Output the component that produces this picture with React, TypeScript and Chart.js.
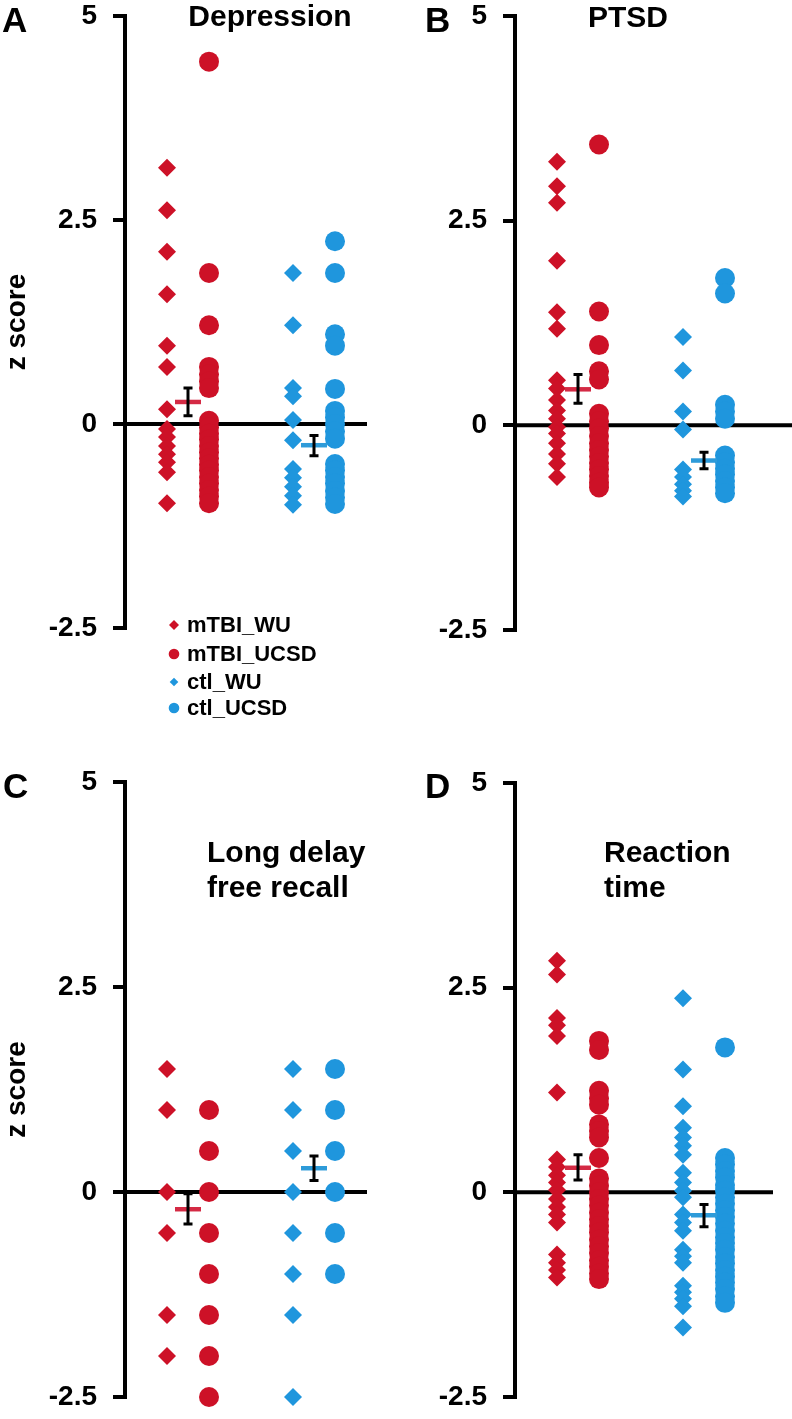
import React, { useEffect, useRef } from 'react';
import { Chart, registerables } from 'chart.js';

Chart.register(...registerables);

const FONT = '"Liberation Sans", Arial, Helvetica, sans-serif';

// ---- categories / ticks ----
const SERIES_LABELS = ['mTBI_WU', 'mTBI_UCSD', 'ctl_WU', 'ctl_UCSD'];
const SERIES_X = [1, 2, 4, 5];
const GROUP_X = [1.5, 4.5];
const Y_TICKS = [-2.5, 0, 2.5, 5];
const Y_TICK_LABELS = ['-2.5', '0', '2.5', '5'];

// ---- Panel A: Depression ----
const depMtbiWu = [3.14, 2.62, 2.11, 1.59, 0.96, 0.7, 0.18, -0.06, -0.16, -0.27, -0.37, -0.47, -0.59, -0.97];
const depMtbiUcsd = [4.44, 1.85, 1.21, 0.7, 0.61, 0.52, 0.44, 0.04, -0.04, -0.12, -0.19, -0.27, -0.35, -0.42, -0.5, -0.57, -0.65, -0.73, -0.81, -0.89, -0.97];
const depCtlWu = [1.85, 1.21, 0.44, 0.34, 0.05, -0.2, -0.55, -0.66, -0.77, -0.88, -0.99];
const depCtlUcsd = [2.24, 1.85, 1.1, 0.96, 0.43, 0.16, 0.08, 0.0, -0.09, -0.18, -0.49, -0.57, -0.65, -0.73, -0.82, -0.9, -0.98];
const depMean = [0.27, -0.26];
const depSemLow = [0.1, -0.39];
const depSemHigh = [0.44, -0.14];

// ---- Panel B: PTSD ----
const ptsdMtbiWu = [3.22, 2.92, 2.72, 2.01, 1.38, 1.18, 0.55, 0.45, 0.31, 0.18, 0.08, -0.02, -0.1, -0.22, -0.35, -0.47, -0.63];
const ptsdMtbiUcsd = [3.43, 1.39, 0.98, 0.66, 0.56, 0.14, 0.05, -0.04, -0.13, -0.22, -0.3, -0.38, -0.46, -0.54, -0.62, -0.7, -0.76];
const ptsdCtlWu = [1.08, 0.67, 0.17, -0.05, -0.54, -0.63, -0.72, -0.8, -0.87];
const ptsdCtlUcsd = [1.8, 1.61, 0.25, 0.17, 0.08, -0.37, -0.45, -0.53, -0.6, -0.68, -0.76, -0.83];
const ptsdMean = [0.44, -0.43];
const ptsdSemLow = [0.27, -0.53];
const ptsdSemHigh = [0.62, -0.33];

// ---- Panel C: Long delay free recall ----
const recMtbiWu = [1.5, 1.0, 0, -0.5, -1.5, -2.0];
const recMtbiUcsd = [1.0, 0.5, 0, -0.5, -1.0, -1.5, -2.0, -2.5];
const recCtlWu = [1.5, 1.0, 0.5, 0, -0.5, -1.0, -1.5, -2.5];
const recCtlUcsd = [1.5, 1.0, 0.5, 0, -0.5, -1.0];
const recMean = [-0.21, 0.29];
const recSemLow = [-0.39, 0.14];
const recSemHigh = [-0.02, 0.44];

// ---- Panel D: Reaction time ----
const rtMtbiWu = [2.83, 2.66, 2.13, 2.04, 1.91, 1.22, 0.4, 0.31, 0.21, 0.12, 0.03, -0.08, -0.18, -0.27, -0.37, -0.76, -0.86, -0.95, -1.04];
const rtMtbiUcsd = [1.85, 1.74, 1.24, 1.15, 1.07, 0.83, 0.75, 0.67, 0.42, 0.17, 0.08, 0.0, -0.08, -0.16, -0.25, -0.33, -0.41, -0.49, -0.58, -0.66, -0.74, -0.83, -0.91, -0.99, -1.06];
const rtCtlWu = [2.37, 1.5, 1.05, 0.79, 0.67, 0.57, 0.46, 0.24, 0.12, 0.02, -0.06, -0.27, -0.37, -0.47, -0.7, -0.78, -0.86, -1.14, -1.22, -1.3, -1.39, -1.65];
const rtCtlUcsd = [1.77, 0.42, 0.34, 0.26, 0.18, 0.09, 0.02, -0.06, -0.14, -0.22, -0.3, -0.38, -0.47, -0.55, -0.62, -0.7, -0.79, -0.87, -0.95, -1.03, -1.1, -1.18, -1.27, -1.35];
const rtMean = [0.3, -0.28];
const rtSemLow = [0.15, -0.42];
const rtSemHigh = [0.46, -0.15];

// ---- styles ----
const RED = '#CD1127';
const BLUE = '#1F96DD';
const MEAN_COLORS = ['#D42A44', '#2E9BD9'];
const SERIES_COLORS = [RED, RED, BLUE, BLUE];
const SERIES_SHAPES = ['rectRot', 'circle', 'rectRot', 'circle'];
const SERIES_RADIUS = [9, 10, 9, 10];
const LEGEND_RADIUS = [5, 5.3, 4.3, 5.3];

type Panel = {
  letter: string;
  letterPos: [number, number];
  title: string[];
  titleAlign: 'center' | 'left';
  titleX: number;
  titleY: number[];
  left: number;
  top: number;
  width: number;
  height: number;
  axisX: number;
  plotTop: number;
  plotBottom: number;
  plotRight: number;
  yTitle: boolean;
  legend: boolean;
  series: number[][];
  mean: number[];
  low: number[];
  high: number[];
};

const PANELS: Panel[] = [
  {
    letter: 'A', letterPos: [2, 32], title: ['Depression'], titleAlign: 'center', titleX: 270, titleY: [26],
    left: 0, top: 0, width: 396, height: 735, axisX: 125, plotTop: 16, plotBottom: 628, plotRight: 367,
    yTitle: true, legend: true,
    series: [depMtbiWu, depMtbiUcsd, depCtlWu, depCtlUcsd], mean: depMean, low: depSemLow, high: depSemHigh,
  },
  {
    letter: 'B', letterPos: [425, 32], title: ['PTSD'], titleAlign: 'center', titleX: 628, titleY: [27],
    left: 396, top: 0, width: 396, height: 735, axisX: 515, plotTop: 16, plotBottom: 630, plotRight: 792,
    yTitle: false, legend: false,
    series: [ptsdMtbiWu, ptsdMtbiUcsd, ptsdCtlWu, ptsdCtlUcsd], mean: ptsdMean, low: ptsdSemLow, high: ptsdSemHigh,
  },
  {
    letter: 'C', letterPos: [3, 798], title: ['Long delay', 'free recall'], titleAlign: 'left', titleX: 207, titleY: [862, 897],
    left: 0, top: 735, width: 396, height: 684, axisX: 125, plotTop: 782, plotBottom: 1397, plotRight: 367,
    yTitle: true, legend: false,
    series: [recMtbiWu, recMtbiUcsd, recCtlWu, recCtlUcsd], mean: recMean, low: recSemLow, high: recSemHigh,
  },
  {
    letter: 'D', letterPos: [425, 798], title: ['Reaction', 'time'], titleAlign: 'left', titleX: 604, titleY: [862, 897],
    left: 396, top: 735, width: 396, height: 684, axisX: 515, plotTop: 783, plotBottom: 1397, plotRight: 773,
    yTitle: false, legend: false,
    series: [rtMtbiWu, rtMtbiUcsd, rtCtlWu, rtCtlUcsd], mean: rtMean, low: rtSemLow, high: rtSemHigh,
  },
];

const X_PX_PER_UNIT = 42;

function makePlugin(p: Panel) {
  return {
    id: 'decor' + p.letter,
    beforeDatasetsDraw(chart: any) {
      const { ctx, chartArea, scales } = chart;
      const y0 = scales.y.getPixelForValue(0);
      ctx.save();
      ctx.strokeStyle = '#000';
      ctx.lineWidth = 4;
      ctx.beginPath();
      ctx.moveTo(chartArea.left, y0);
      ctx.lineTo(chartArea.right, y0);
      ctx.stroke();
      ctx.restore();
    },
    afterDatasetsDraw(chart: any) {
      const { ctx, scales } = chart;
      ctx.save();
      GROUP_X.forEach((gx, i) => {
        const px = scales.x.getPixelForValue(gx);
        const pm = scales.y.getPixelForValue(p.mean[i]);
        const pl = scales.y.getPixelForValue(p.low[i]);
        const ph = scales.y.getPixelForValue(p.high[i]);
        ctx.strokeStyle = MEAN_COLORS[i];
        ctx.lineWidth = 4.5;
        ctx.beginPath();
        ctx.moveTo(px - 13, pm);
        ctx.lineTo(px + 13, pm);
        ctx.stroke();
        ctx.strokeStyle = '#000';
        ctx.lineWidth = 3;
        ctx.beginPath();
        ctx.moveTo(px, ph);
        ctx.lineTo(px, pl);
        ctx.moveTo(px - 4.5, ph);
        ctx.lineTo(px + 4.5, ph);
        ctx.moveTo(px - 4.5, pl);
        ctx.lineTo(px + 4.5, pl);
        ctx.stroke();
      });
      ctx.restore();
    },
    afterDraw(chart: any) {
      const { ctx } = chart;
      ctx.save();
      ctx.fillStyle = '#000';
      ctx.textBaseline = 'alphabetic';
      ctx.textAlign = 'left';
      ctx.font = `bold 35px ${FONT}`;
      ctx.fillText(p.letter, p.letterPos[0] - p.left, p.letterPos[1] - p.top);
      ctx.font = `bold 30px ${FONT}`;
      ctx.textAlign = p.titleAlign;
      p.title.forEach((t, i) => ctx.fillText(t, p.titleX - p.left, p.titleY[i] - p.top));
      if (p.legend) {
        const rows = [625, 654, 682, 708];
        ctx.font = `bold 22px ${FONT}`;
        ctx.textAlign = 'left';
        ctx.textBaseline = 'middle';
        SERIES_LABELS.forEach((lab, i) => {
          const y = rows[i] - p.top;
          const x = 174 - p.left;
          const r = LEGEND_RADIUS[i];
          ctx.fillStyle = SERIES_COLORS[i];
          ctx.beginPath();
          if (SERIES_SHAPES[i] === 'rectRot') {
            ctx.moveTo(x - r, y);
            ctx.lineTo(x, y - r);
            ctx.lineTo(x + r, y);
            ctx.lineTo(x, y + r);
            ctx.closePath();
          } else {
            ctx.arc(x, y, r, 0, Math.PI * 2);
          }
          ctx.fill();
          ctx.fillStyle = '#000';
          ctx.fillText(lab, 187 - p.left, y + 1);
        });
      }
      ctx.restore();
    },
  };
}

function PanelChart({ p }: { p: Panel }) {
  const ref = useRef<HTMLCanvasElement | null>(null);
  useEffect(() => {
    if (!ref.current) return;
    const axisWidth = p.axisX - p.left;
    const xMax = (p.plotRight - p.axisX) / X_PX_PER_UNIT;
    const chart = new Chart(ref.current, {
      type: 'scatter',
      data: {
        datasets: SERIES_LABELS.map((label, i) => ({
          label,
          data: p.series[i].map((v) => ({ x: SERIES_X[i], y: v })),
          pointStyle: SERIES_SHAPES[i] as any,
          pointRadius: SERIES_RADIUS[i],
          pointHoverRadius: SERIES_RADIUS[i],
          backgroundColor: SERIES_COLORS[i],
          borderColor: SERIES_COLORS[i],
          borderWidth: 0,
          clip: false as any,
          showLine: false,
        })),
      },
      options: {
        animation: false,
        responsive: false,
        maintainAspectRatio: false,
        devicePixelRatio: 1,
        events: [],
        layout: {
          autoPadding: false,
          padding: {
            top: p.plotTop - p.top,
            bottom: p.top + p.height - p.plotBottom,
            left: 0,
            right: p.left + p.width - p.plotRight,
          },
        },
        plugins: {
          legend: { display: false },
          tooltip: { enabled: false },
          title: { display: false },
        },
        scales: {
          x: { type: 'linear', min: 0, max: xMax, display: false },
          y: {
            type: 'linear',
            min: -2.5,
            max: 5,
            afterBuildTicks: (s: any) => {
              s.ticks = Y_TICKS.map((v) => ({ value: v }));
            },
            ticks: {
              color: '#000',
              padding: 16,
              font: { family: FONT, size: 28, weight: 'bold', lineHeight: 1 },
              callback: (v: any) => Y_TICK_LABELS[Y_TICKS.indexOf(Number(v))] ?? String(v),
            },
            border: { display: true, color: '#000', width: 4 },
            grid: {
              display: true,
              drawOnChartArea: false,
              drawTicks: true,
              tickLength: 12,
              lineWidth: 4,
              color: '#000',
            },
            title: {
              display: p.yTitle,
              text: 'z score',
              color: '#000',
              font: { family: FONT, size: 28, weight: 'bold', lineHeight: 1.2 },
              padding: { top: 0, bottom: 0 },
            },
            afterFit: (s: any) => {
              s.width = axisWidth;
              s.paddingTop = 0;
              s.paddingBottom = 0;
            },
          },
        },
      } as any,
      plugins: [makePlugin(p)],
    });
    return () => chart.destroy();
  }, [p]);
  return (
    <canvas
      ref={ref}
      width={p.width}
      height={p.height}
      style={{ position: 'absolute', left: p.left, top: p.top, width: p.width, height: p.height }}
    />
  );
}

export default function App() {
  return (
    <div
      style={{
        position: 'absolute',
        left: 0,
        top: 0,
        width: 792,
        height: 1419,
        background: '#fff',
        overflow: 'hidden',
      }}
    >
      {PANELS.map((p) => (
        <PanelChart key={p.letter} p={p} />
      ))}
    </div>
  );
}
